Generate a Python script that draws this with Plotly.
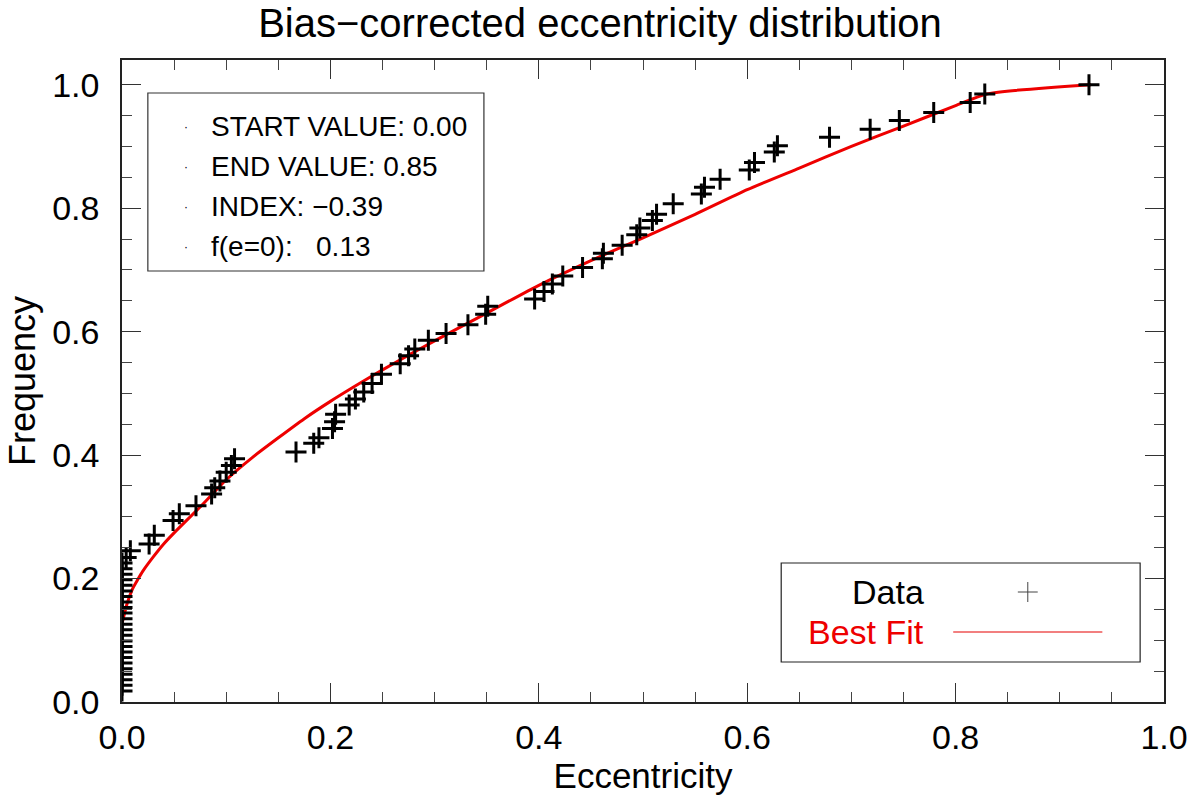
import plotly.graph_objects as go

# ---------------- data ----------------
ecc_data = [
    0.0, 0.0, 0.0, 0.0, 0.0, 0.0, 0.0, 0.0, 0.0, 0.0, 0.0, 0.0,
    0.0, 0.0, 0.0, 0.0, 0.0, 0.0, 0.0, 0.0, 0.0, 0.0, 0.0, 0.0,
    0.004, 0.008,
    0.026, 0.031, 0.049, 0.055, 0.071, 0.086, 0.089, 0.094, 0.100, 0.105, 0.108,
    0.167, 0.184, 0.189, 0.202, 0.204, 0.205, 0.218, 0.224, 0.232, 0.240, 0.249,
    0.267, 0.275, 0.281, 0.294, 0.311, 0.332, 0.349, 0.351,
    0.396, 0.405, 0.413, 0.423, 0.442, 0.461, 0.462, 0.480, 0.494, 0.497,
    0.509, 0.513, 0.529, 0.556, 0.559, 0.574, 0.602, 0.607, 0.626, 0.629,
    0.679, 0.718, 0.746, 0.779, 0.814, 0.828, 0.928,
]
freq_data = [
    0.018, 0.027, 0.036, 0.045, 0.054, 0.063, 0.072, 0.081, 0.090, 0.099, 0.108, 0.117,
    0.126, 0.135, 0.144, 0.153, 0.162, 0.171, 0.180, 0.189, 0.198, 0.207, 0.216, 0.225,
    0.234, 0.245,
    0.256, 0.270, 0.294, 0.305, 0.318, 0.337, 0.347, 0.358, 0.372, 0.383, 0.394,
    0.405, 0.419, 0.428, 0.443, 0.454, 0.466, 0.481, 0.491, 0.502, 0.516, 0.531,
    0.548, 0.561, 0.572, 0.586, 0.597, 0.611, 0.628, 0.641,
    0.653, 0.665, 0.677, 0.690, 0.704, 0.718, 0.727, 0.740, 0.757, 0.768,
    0.780, 0.790, 0.807, 0.823, 0.834, 0.847, 0.862, 0.874, 0.891, 0.901,
    0.915, 0.928, 0.942, 0.955, 0.971, 0.985, 1.000,
]

ecc_fit = [0.0, 0.005, 0.01, 0.015, 0.02, 0.03, 0.04, 0.05, 0.075, 0.1, 0.125, 0.15, 0.175,
           0.2, 0.225, 0.25, 0.275, 0.3, 0.35, 0.4, 0.45, 0.5, 0.55, 0.6, 0.65, 0.7, 0.75,
           0.8, 0.83, 0.93]
freq_fit = [0.127, 0.160, 0.183, 0.198, 0.212, 0.235, 0.256, 0.274, 0.316, 0.360, 0.396, 0.428, 0.459,
            0.487, 0.513, 0.538, 0.562, 0.585, 0.630, 0.675, 0.715, 0.752, 0.790, 0.830, 0.865, 0.900, 0.933,
            0.966, 0.985, 1.000]

info_lines = ["START VALUE: 0.00", "END VALUE: 0.85", "INDEX: \u22120.39", "f(e=0):   0.13"]
x_ticks = [0.0, 0.2, 0.4, 0.6, 0.8, 1.0]
y_ticks = [0.0, 0.2, 0.4, 0.6, 0.8, 1.0]

# ---------------- figure ----------------
FONT = "Liberation Sans, Arial, sans-serif"
W, H = 1200, 811
L, R, T, B = 122, 30, 60, 109
pw, ph = W - L - R, H - T - B


def px(xp):
    return (xp - L) / pw


def py(yp):
    return (H - B - yp) / ph


fig = go.Figure()
fig.add_trace(go.Scatter(
    x=ecc_fit, y=freq_fit, mode="lines",
    line=dict(color="#ee0000", width=3, shape="spline", smoothing=0.6),
    showlegend=False, hoverinfo="skip"))
fig.add_trace(go.Scatter(
    x=ecc_data, y=freq_data, mode="markers",
    marker=dict(symbol="cross-thin", size=15, color="black",
                line=dict(color="black", width=3)),
    showlegend=False))

axis_common = dict(
    showgrid=False, zeroline=False, showline=True, linecolor="#222", linewidth=1.5,
    mirror="allticks", ticks="inside", ticklen=19, tickwidth=1.2, tickcolor="#333",
    minor=dict(ticks="inside", ticklen=10, tickwidth=1, tickcolor="#444", dtick=0.05),
    tickfont=dict(family=FONT, size=34, color="black"), tickformat=".1f",
)

fig.update_layout(
    width=W, height=H, margin=dict(l=L, r=R, t=T, b=B),
    paper_bgcolor="white", plot_bgcolor="white",
    title=dict(text="Bias\u2212corrected eccentricity distribution", x=0.5, xanchor="center",
               y=1 - 23 / H, yanchor="middle", yref="container",
               font=dict(family=FONT, size=40, color="black")),
    xaxis=dict(range=[0, 1], tickvals=x_ticks, ticklabelstandoff=4,
               title=dict(text="Eccentricity", font=dict(family=FONT, size=35, color="black"), standoff=8),
               **axis_common),
    yaxis=dict(range=[0, 1.04], tickvals=y_ticks, ticklabelstandoff=14,
               title=dict(text="Frequency", font=dict(family=FONT, size=36, color="black"), standoff=6),
               **axis_common),
)

shapes = []
annotations = []
# info box
shapes.append(dict(type="rect", xref="paper", yref="paper",
                   x0=px(148), x1=px(486), y0=py(271), y1=py(93),
                   line=dict(color="#333", width=1.2), fillcolor="white"))
for i, txt in enumerate(info_lines):
    yy = py(127 + 40 * i)
    annotations.append(dict(text="\u00b7", xref="paper", yref="paper", x=px(186), y=yy,
                            xanchor="center", yanchor="middle", showarrow=False,
                            font=dict(family=FONT, size=12, color="black")))
    annotations.append(dict(text=txt, xref="paper", yref="paper", x=px(210), y=yy,
                            xanchor="left", yanchor="middle", showarrow=False,
                            font=dict(family=FONT, size=28, color="black")))

# legend box
shapes.append(dict(type="rect", xref="paper", yref="paper",
                   x0=px(785), x1=px(1146), y0=py(662), y1=py(563),
                   line=dict(color="#222", width=1.2), fillcolor="white"))
annotations.append(dict(text="Data", xref="paper", yref="paper", x=px(931), y=py(592),
                        xanchor="right", yanchor="middle", showarrow=False,
                        font=dict(family=FONT, size=34, color="black")))
annotations.append(dict(text="Best Fit", xref="paper", yref="paper", x=px(931), y=py(632),
                        xanchor="right", yanchor="middle", showarrow=False,
                        font=dict(family=FONT, size=34, color="#ee0000")))
shapes.append(dict(type="line", xref="paper", yref="paper", x0=px(1023), x1=px(1043),
                   y0=py(592), y1=py(592), line=dict(color="#444", width=1)))
shapes.append(dict(type="line", xref="paper", yref="paper", x0=px(1033), x1=px(1033),
                   y0=py(582), y1=py(602), line=dict(color="#444", width=1)))
shapes.append(dict(type="line", xref="paper", yref="paper", x0=px(958), x1=px(1108),
                   y0=py(632), y1=py(632), line=dict(color="#ee5555", width=1.5)))

fig.update_layout(shapes=shapes, annotations=annotations)
fig.write_html("out.html")
